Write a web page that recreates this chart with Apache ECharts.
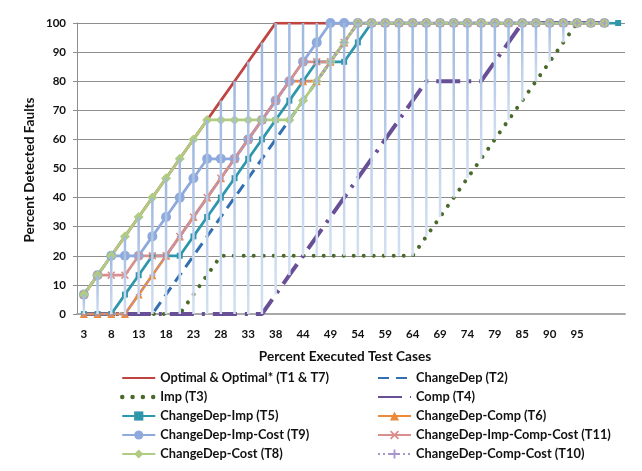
<!DOCTYPE html>
<html><head><meta charset="utf-8">
<script src="https://cdn.jsdelivr.net/npm/echarts@6/dist/echarts.min.js"></script>
<style>html,body{margin:0;padding:0;background:#fff}#c{width:642px;height:471px}</style>
</head><body><div id="c"></div>
<script>
// Category labels (percent executed test cases); last slot has no label
const xLabels = ['3','5','8','10','13','15','18','21','23','26','28','31','33','36','38','41','44','46','49','51','54','56','59','62','64','67','69','72','74','77','79','82','85','87','90','92','95','97','100',''];
const yTicks = [0,10,20,30,40,50,60,70,80,90,100];

// Series values (percent detected faults)
const optimal = [6.67,13.33,20,26.67,33.33,40,46.67,53.33,60,66.67,73.33,80,86.67,93.33,100,100,100,100,100,100,100,100,100,100,100,100,100,100,100,100,100,100,100,100,100,100,100,100,100];
const changeDep = [0,0,0,0,0,0,6.67,13.33,20,26.67,33.33,40,46.67,53.33,60,66.67,73.33,80,86.67,93.33,100,100,100,100,100,100,100,100,100,100,100,100,100,100,100,100,100,100,100];
const imp = [0,0,0,0,0,0,0,0,6.67,13.33,20,20,20,20,20,20,20,20,20,20,20,20,20,20,20,26.67,33.33,40,46.67,53.33,60,66.67,73.33,80,86.67,93.33,100,100,100];
const comp = [0,0,0,0,0,0,0,0,0,0,0,0,0,0,6.67,13.33,20,26.67,33.33,40,46.67,53.33,60,66.67,73.33,80,80,80,80,80,86.67,93.33,100,100,100,100,100,100,100];
const cdImp = [0,0,0,6.67,13.33,20,20,20,26.67,33.33,40,46.67,53.33,60,66.67,73.33,80,86.67,86.67,86.67,93.33,100,100,100,100,100,100,100,100,100,100,100,100,100,100,100,100,100,100,100];
const cdComp = [0,0,0,0,6.67,13.33,20,26.67,33.33,40,46.67,53.33,60,66.67,73.33,80,80,80,86.67,93.33,100,100,100,100,100,100,100,100,100,100,100,100,100,100,100,100,100,100,100];
const cdImpCost = [6.67,13.33,20,20,20,26.67,33.33,40,46.67,53.33,53.33,53.33,60,66.67,73.33,80,86.67,93.33,100,100,100,100,100,100,100,100,100,100,100,100,100,100,100,100,100,100,100,100,100];
const cdImpCompCost = [6.67,13.33,13.33,13.33,20,20,20,26.67,33.33,40,46.67,53.33,60,66.67,73.33,80,86.67,86.67,86.67,93.33,100,100,100,100,100,100,100,100,100,100,100,100,100,100,100,100,100,100,100];
const cdCost = [6.67,13.33,20,26.67,33.33,40,46.67,53.33,60,66.67,66.67,66.67,66.67,66.67,66.67,66.67,73.33,80,86.67,93.33,100,100,100,100,100,100,100,100,100,100,100,100,100,100,100,100,100,100,100];
const cdCompCost = [0,0,0,0,6.67,13.33,20,26.67,33.33,40,46.67,53.33,60,66.67,73.33,80,80,80,86.67,93.33,100,100,100,100,100,100,100,100,100,100,100,100,100,100,100,100,100,100,100];

const names = ['Optimal & Optimal* (T1 & T7)','ChangeDep (T2)','Imp (T3)','Comp (T4)','ChangeDep-Imp (T5)','ChangeDep-Comp (T6)','ChangeDep-Imp-Cost (T9)','ChangeDep-Imp-Comp-Cost (T11)','ChangeDep-Cost (T8)','ChangeDep-Comp-Cost (T10)'];

const FONT = 'Lato';
const X_PATH = 'path://M0,1.4L1.4,0L5,3.6L8.6,0L10,1.4L6.4,5L10,8.6L8.6,10L5,6.4L1.4,10L0,8.6L3.6,5Z';
const PLUS_PATH = 'path://M4,0H6V4H10V6H6V10H4V6H0V4H4Z';

const allData = [optimal, changeDep, imp, comp, cdImp, cdComp, cdImpCost, cdImpCompCost, cdCost, cdCompCost];
const hiLo = [];
for (let i = 0; i < xLabels.length; i++) {
  let mn = Infinity, mx = -Infinity;
  allData.forEach(a => { const v = a[i]; if (v != null) { mn = Math.min(mn, v); mx = Math.max(mx, v); } });
  if (mx > mn) hiLo.push([i, mn, mx]);
}

function ls(name, data, color, opts) {
  opts = opts || {};
  return {
    type: 'line', name: name, data: data, z: 2,
    symbol: opts.symbol || 'none', symbolSize: opts.size || 6, showAllSymbol: true,
    lineStyle: { color: color, width: opts.width || 2.75, type: opts.type || 'solid', cap: opts.cap || 'butt' },
    itemStyle: { color: color },
    emphasis: { disabled: true },
    animation: false
  };
}

const series = [
  ls(names[0], optimal, '#c0443f', { width: 2.75 }),
  ls(names[1], changeDep, '#3470b0', { width: 3, type: [11, 7] }),
  ls(names[2], imp, '#4a6a2a', { width: 4, type: [0.01, 9.99], cap: 'round' }),
  ls(names[3], comp, '#684f96', { width: 4, type: [24, 8, 3, 8] }),
  ls(names[4], cdImp, '#2f97ab', { symbol: 'rect', size: 6 }),
  ls(names[5], cdComp, '#ea8a3a', { symbol: 'triangle', size: 8 }),
  ls(names[6], cdImpCost, '#8eaadc', { symbol: 'circle', size: 10 }),
  ls(names[7], cdImpCompCost, '#d9908d', { symbol: X_PATH, size: 8 }),
  ls(names[8], cdCost, '#afcc82', { symbol: 'diamond', size: 10 }),
  ls(names[9], cdCompCost, '#a895cc', { symbol: PLUS_PATH, size: 6, width: 2, type: [2, 3] }),
  {
    type: 'custom', name: 'hilo', data: hiLo, z: 5, silent: true, animation: false,
    encode: { x: 0, y: [1, 2] },
    renderItem: function (params, api) {
      const top = api.coord([api.value(0), api.value(2)]);
      const bot = api.coord([api.value(0), api.value(1)]);
      return {
        type: 'rect',
        shape: { x: top[0] - 1.25, y: top[1], width: 2.5, height: bot[1] - top[1] },
        style: { fill: new echarts.graphic.LinearGradient(0, 0, 0, 1, [
          { offset: 0, color: '#9fb8df' }, { offset: 1, color: '#d3e0f1' }]) }
      };
    }
  }
];

const legendText = { fontFamily: FONT, fontWeight: 'bold', fontSize: 12.8, color: '#111', lineHeight: 14 };
const noSym = { itemStyle: { opacity: 0, color: 'rgba(0,0,0,0)', borderWidth: 0 } };
function li(n, hide, extra) {
  const o = hide ? Object.assign({ name: n }, noSym) : { name: n };
  return extra ? Object.assign(o, extra) : o;
}
const impLegendLine = { lineStyle: { width: 4.5, type: [0.01, 10.3], cap: 'round', color: '#4a6a2a' } };

const chart = echarts.init(document.getElementById('c'), null, { renderer: 'canvas' });
chart.setOption({
  animation: false,
  backgroundColor: '#fff',
  grid: { left: 77, right: 17, top: 23, bottom: 157, containLabel: false },
  xAxis: {
    type: 'category', data: xLabels, boundaryGap: true,
    axisLine: { show: true, lineStyle: { color: '#a8a8a8', width: 2 } },
    axisTick: { show: false },
    axisLabel: {
      interval: function (i) { return i % 2 === 0 && i <= 36; },
      margin: 14, fontFamily: FONT, fontWeight: 'bold', fontSize: 11.5, color: '#111'
    },
    splitLine: { show: false }
  },
  yAxis: {
    type: 'value', min: yTicks[0], max: yTicks[yTicks.length - 1], interval: 10,
    axisLine: { show: true, lineStyle: { color: '#8e8e8e', width: 1 } },
    axisTick: { show: true, length: 4, lineStyle: { color: '#8e8e8e' } },
    axisLabel: { margin: 11, fontFamily: FONT, fontWeight: 'bold', fontSize: 11.5, color: '#111' },
    splitLine: { lineStyle: { color: '#8e8e8e', width: 1 } }
  },
  legend: [
    { orient: 'vertical', left: 120, top: 371, padding: 0, itemWidth: 33, itemHeight: 11.5, itemGap: 5,
      data: [li(names[0], true), li(names[2], true, impLegendLine), li(names[4]), li(names[6]), li(names[8])],
      textStyle: legendText, selectedMode: false },
    { orient: 'vertical', left: 377, top: 371, padding: 0, itemWidth: 33, itemHeight: 11.5, itemGap: 5,
      data: [li(names[1], true), li(names[3], true), li(names[5]), li(names[7]), li(names[9])],
      textStyle: legendText, selectedMode: false }
  ],
  graphic: [
    { type: 'text', x: 30, y: 170, rotation: Math.PI / 2,
      style: { text: 'Percent Detected Faults', fontFamily: FONT, fontWeight: 'bold', fontSize: 13.6, fill: '#111', align: 'center', verticalAlign: 'middle' } },
    { type: 'text', x: 345, y: 357,
      style: { text: 'Percent Executed Test Cases', fontFamily: FONT, fontWeight: 'bold', fontSize: 13.6, fill: '#111', align: 'center', verticalAlign: 'middle' } }
  ],
  series: series
});
</script></body></html>
